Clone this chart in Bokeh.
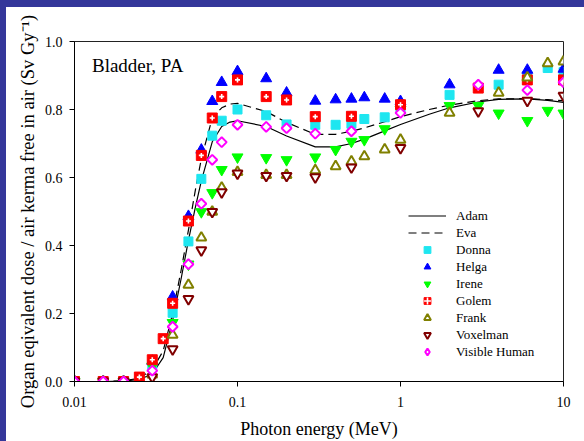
import numpy as np
from bokeh.plotting import figure
from bokeh.models import (Range1d, FixedTicker, Legend, LegendItem, Label,
                          CustomJSTickFormatter, PrintfTickFormatter)
from bokeh.embed import file_html
from bokeh.resources import INLINE

# ---------------- data ----------------
curve_energy = [0.01, 0.015, 0.02, 0.025, 0.03, 0.035, 0.04, 0.045, 0.05, 0.055, 0.06,
                0.07, 0.08, 0.09, 0.1, 0.15, 0.2, 0.3, 0.4, 0.5, 0.6, 0.8, 1, 1.5, 2,
                3, 4, 6, 8, 10]
adam = [0.0, 0.0, 0.001, 0.006, 0.022, 0.07, 0.18, 0.30, 0.415, 0.51, 0.59,
        0.705, 0.75, 0.763, 0.767, 0.75, 0.722, 0.69, 0.69, 0.70, 0.713, 0.737, 0.756, 0.786, 0.805,
        0.822, 0.83, 0.831, 0.827, 0.821]
eva = [0.0, 0.0, 0.002, 0.01, 0.035, 0.09, 0.20, 0.325, 0.445, 0.56, 0.655,
       0.775, 0.805, 0.816, 0.818, 0.794, 0.762, 0.727, 0.727, 0.736, 0.746, 0.764, 0.779, 0.80, 0.813,
       0.826, 0.831, 0.832, 0.829, 0.826]

donna_e = [0.01, 0.015, 0.02, 0.03, 0.04, 0.05, 0.06, 0.07, 0.08, 0.1, 0.15, 0.2, 0.3, 0.4,
           0.5, 0.6, 0.8, 1, 2, 4, 6, 8, 10]
donna_v = [0, 0, 0, 0.05, 0.202, 0.412, 0.596, 0.723, 0.767, 0.800, 0.783, 0.756, 0.755, 0.755,
           0.758, 0.772, 0.777, 0.80, 0.843, 0.873, 0.90, 0.922, 0.91]

helga_e = [0.01, 0.015, 0.02, 0.03, 0.04, 0.05, 0.06, 0.07, 0.08, 0.1, 0.15, 0.2, 0.3, 0.4,
           0.5, 0.6, 0.8, 1, 2, 4, 6, 10]
helga_v = [0, 0, 0, 0.06, 0.249, 0.486, 0.681, 0.824, 0.88, 0.912, 0.891, 0.849, 0.825, 0.829,
           0.831, 0.835, 0.831, 0.824, 0.873, 0.916, 0.916, 0.919]

irene_e = [0.01, 0.015, 0.02, 0.03, 0.04, 0.05, 0.06, 0.07, 0.08, 0.1, 0.15, 0.2, 0.3, 0.4,
           0.5, 0.6, 0.8, 1, 2, 3, 4, 6, 8, 10]
irene_v = [0, 0, 0, 0.045, 0.173, 0.345, 0.499, 0.555, 0.623, 0.66, 0.658, 0.652, 0.66, 0.682,
           0.706, 0.711, 0.743, 0.80, 0.811, 0.811, 0.789, 0.767, 0.797, 0.789]

golem_e = [0.01, 0.015, 0.02, 0.025, 0.03, 0.035, 0.04, 0.05, 0.06, 0.07, 0.08, 0.1, 0.15, 0.2,
           0.3, 0.5, 1, 3, 6, 10]
golem_v = [0, 0, 0, 0.013, 0.064, 0.126, 0.23, 0.472, 0.665, 0.775, 0.838, 0.887, 0.838, 0.828,
           0.779, 0.78, 0.814, 0.863, 0.887, 0.887]

frank_e = [0.01, 0.015, 0.02, 0.03, 0.04, 0.05, 0.06, 0.07, 0.08, 0.1, 0.15, 0.2, 0.3, 0.4,
           0.5, 0.6, 0.8, 1, 2, 4, 6, 8, 10]
frank_v = [0, 0, 0, 0.02, 0.137, 0.284, 0.423, 0.499, 0.57, 0.616, 0.607, 0.607, 0.621, 0.633,
           0.647, 0.662, 0.682, 0.711, 0.79, 0.849, 0.894, 0.936, 0.941]

voxel_e = [0.01, 0.015, 0.02, 0.03, 0.04, 0.05, 0.06, 0.07, 0.08, 0.1, 0.15, 0.2, 0.3, 0.5,
           1, 3, 6, 10]
voxel_v = [0, 0, 0, 0.013, 0.095, 0.243, 0.386, 0.499, 0.557, 0.612, 0.605, 0.605, 0.601, 0.63,
           0.687, 0.795, 0.826, 0.841]

vh_e = [0.01, 0.015, 0.02, 0.03, 0.04, 0.05, 0.06, 0.07, 0.08, 0.1, 0.15, 0.2, 0.3, 0.5,
        1, 3, 6, 10]
vh_v = [0, 0, 0, 0.032, 0.161, 0.345, 0.523, 0.652, 0.704, 0.755, 0.749, 0.745, 0.729, 0.736,
        0.79, 0.873, 0.857, 0.88]

x_ticks = [0.01, 0.1, 1, 10]
y_ticks = [0.0, 0.2, 0.4, 0.6, 0.8, 1.0]

FONT = '"Liberation Serif"'

# ---------------- figure ----------------
p = figure(width=584, height=441, x_axis_type="log",
           x_range=Range1d(0.01, 10), y_range=Range1d(0, 1.0),
           output_backend="svg", toolbar_location=None,
           min_border_left=74, min_border_right=21, min_border_top=41, min_border_bottom=59)
p.styles = {"background-color": "white", "box-shadow": "inset 6px 7px 0 0 #34379a"}
p.background_fill_color = "white"
p.border_fill_color = None
p.outline_line_color = "#222222"
p.outline_line_width = 1
p.xgrid.visible = False
p.ygrid.visible = False

for ax in (p.xaxis[0], p.yaxis[0]):
    ax.axis_line_color = "black"
    ax.major_tick_line_color = "black"
    ax.major_tick_out = 5
    ax.major_tick_in = 0
    ax.minor_tick_line_color = None
    ax.major_label_text_font = FONT
    ax.major_label_text_font_size = "14px"
    ax.major_label_text_color = "black"
    ax.axis_label_text_font = FONT
    ax.axis_label_text_font_size = "18px"
    ax.axis_label_text_font_style = "normal"
    ax.axis_label_text_color = "black"

p.xaxis.ticker = FixedTicker(ticks=x_ticks, minor_ticks=[])
p.xaxis.formatter = CustomJSTickFormatter(code="return tick.toString();")
p.xaxis.axis_label = "Photon energy (MeV)"
p.xaxis.major_label_standoff = 10
p.xaxis.axis_label_standoff = 9

p.yaxis.ticker = FixedTicker(ticks=y_ticks, minor_ticks=[])
p.yaxis.formatter = PrintfTickFormatter(format="%.1f")
p.yaxis.axis_label = "Organ eqivalent dose / air kerma free in air (Sv Gy\u207b\u00b9)"
p.yaxis.axis_label_text_font_size = "18.5px"
p.yaxis.major_label_standoff = 7
p.yaxis.axis_label_standoff = 4

# curves
r_adam = p.line(curve_energy, adam, line_color="black", line_width=1.2)
r_eva = p.line(curve_energy, eva, line_color="black", line_width=1.2, line_dash="8 5")

# markers
r_donna = p.scatter(donna_e, donna_v, marker="square", size=9,
                    fill_color="#1ee6f0", line_color="#1ee6f0")
r_helga = p.scatter(helga_e, helga_v, marker="triangle", size=11,
                    fill_color="#0000ff", line_color="#0000ff")
r_irene = p.scatter(irene_e, irene_v, marker="inverted_triangle", size=11,
                    fill_color="#00ff00", line_color="#00ff00")
r_golem = p.scatter(golem_e, golem_v, marker="square", size=10,
                    fill_color="#ff0000", line_color="#ff0000")
r_golem2 = p.scatter(golem_e, golem_v, marker="cross", size=5,
                     line_color="white", line_width=1.6)
r_frank = p.scatter(frank_e, frank_v, marker="triangle", size=10,
                    fill_color="white", line_color="#808000", line_width=2)
r_voxel = p.scatter(voxel_e, voxel_v, marker="inverted_triangle", size=10,
                    fill_color="white", line_color="#800000", line_width=2)
r_vh = p.scatter(vh_e, vh_v, marker="square", angle=np.pi / 4, size=7,
                 fill_color="white", line_color="#ff00ff", line_width=2)
# legend-only glyph for the diamond (legend does not rotate markers)
r_vh_leg = p.scatter([float("nan")], [float("nan")], marker="diamond", size=12,
                     fill_color="white", line_color="#ff00ff", line_width=2)

legend = Legend(items=[
    LegendItem(label="Adam", renderers=[r_adam]),
    LegendItem(label="Eva", renderers=[r_eva]),
    LegendItem(label="Donna", renderers=[r_donna]),
    LegendItem(label="Helga", renderers=[r_helga]),
    LegendItem(label="Irene", renderers=[r_irene]),
    LegendItem(label="Golem", renderers=[r_golem, r_golem2]),
    LegendItem(label="Frank", renderers=[r_frank]),
    LegendItem(label="Voxelman", renderers=[r_voxel]),
    LegendItem(label="Visible Human", renderers=[r_vh_leg]),
], location=(334, 21))
legend.border_line_color = None
legend.background_fill_alpha = 0
legend.padding = 0
legend.margin = 0
legend.spacing = 0
legend.glyph_width = 38
legend.glyph_height = 17
legend.label_height = 17
legend.label_standoff = 10
legend.label_text_font = FONT
legend.label_text_font_size = "13px"
legend.label_text_color = "black"
p.add_layout(legend, "center")

p.add_layout(Label(x=0.0128, y=0.928, text="Bladder, PA", text_font=FONT,
                   text_font_size="19px", text_baseline="middle", text_color="black"))

open("out.html", "w").write(file_html(p, INLINE))
